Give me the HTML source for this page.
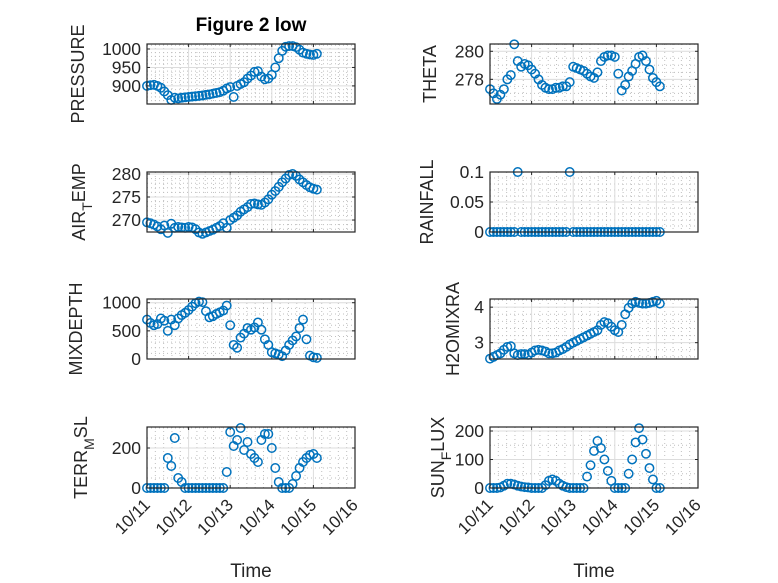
<!DOCTYPE html>
<html><head><meta charset="utf-8"><style>
html,body{margin:0;padding:0;background:#fff;}
svg{display:block;font-family:"Liberation Sans","DejaVu Sans",sans-serif;}
</style></head><body>
<svg id="fig" width="778" height="583" viewBox="0 0 778 583"></svg>
<script>
// ---- data (2-hour samples from 10/11 00:00, in days) ----
const sampleStepHours = 2;
const xTickLabels = ["10/11","10/12","10/13","10/14","10/15","10/16"];
const pressure = [900,902,903,900,895,885, 875,862,868,866,868,869, 870,871,872,873,874,876, 877,879,881,883,887,893, 897,870,900,905,910,920, 928,938,940,925,918,920, 930,950,975,995,1006,1008, 1008,1005,998,990,987,985, 984,987];
const theta = [277.3,277.0,276.6,276.9,277.3,278.0, 278.3,280.5,279.3,278.9,279.1,279.0, 278.7,278.4,278.0,277.6,277.4,277.3, 277.3,277.4,277.4,277.5,277.5,277.8, 278.9,278.8,278.7,278.6,278.4,278.2, 278.1,278.5,279.3,279.6,279.7,279.7, 279.6,278.4,277.2,277.6,278.2,278.6, 279.1,279.6,279.7,279.3,278.7,278.1, 277.8,277.5];
const airTemp = [269.5,269.3,269.0,268.6,268.0,268.8, 267.2,269.2,268.3,268.5,268.4,268.3, 268.5,268.4,268.0,267.3,267.0,267.3, 267.6,267.9,268.3,268.7,269.3,268.3, 270.0,270.5,271.0,271.8,272.3,272.8, 273.5,273.6,273.4,273.3,273.8,274.5, 275.5,276.3,277.2,278.2,279.0,279.8, 280.0,279.6,278.8,278.2,277.6,277.1, 276.8,276.6];
const rainfall = [0,0,0,0,0,0, 0,0,0.1,0,0,0, 0,0,0,0,0,0, 0,0,0,0,0,0.1, 0,0,0,0,0,0, 0,0,0,0,0,0, 0,0,0,0,0,0, 0,0,0,0,0,0, 0,0];
const mixDepth = [700,640,600,620,720,680, 500,700,600,720,780,820, 870,930,990,1020,1010,850, 740,760,800,830,860,950, 600,250,200,380,450,550, 520,560,650,520,350,250, 120,100,80,50,150,250, 330,400,550,700,350,60, 30,20];
const h2oMix = [2.55,2.6,2.65,2.7,2.8,2.88, 2.9,2.7,2.65,2.68,2.68,2.66, 2.72,2.78,2.8,2.78,2.75,2.7, 2.7,2.72,2.78,2.82,2.88,2.95, 3.0,3.05,3.1,3.15,3.2,3.25, 3.3,3.35,3.5,3.58,3.55,3.45, 3.35,3.3,3.5,3.8,3.98,4.1, 4.15,4.12,4.1,4.1,4.12,4.15, 4.18,4.1];
const terrMsl = [0,0,0,0,0,0, 150,110,250,50,30,0, 0,0,0,0,0,0, 0,0,0,0,0,80, 280,210,240,300,190,230, 170,150,130,240,270,270, 200,100,30,0,0,0, 20,60,100,130,150,165, 170,150];
const sunFlux = [0,0,0,2,8,15, 15,12,8,5,3,2, 0,0,0,0,10,25, 30,25,15,8,3,0, 0,0,0,0,40,80, 130,165,140,100,60,25, 0,0,0,0,50,100, 160,210,170,120,70,30, 0,0];
const pressureTicks = [900,950,1000];
const thetaTicks = [278,280];
const airTicks = [270,275,280];
const rainTicks = [0,0.05,0.1];
const rainTickLabels = ["0","0.05","0.1"];
const mixTicks = [0,500,1000];
const h2oTicks = [3,4];
const terrTicks = [0,200];
const sunTicks = [0,100,200];

const NS="http://www.w3.org/2000/svg";
const svg=document.getElementById('fig');
function mk(tag,attrs,parent){const e=document.createElementNS(NS,tag);for(const k in attrs)e.setAttribute(k,attrs[k]);(parent||svg).appendChild(e);return e;}

const cols=[{x0:147,x1:355},{x0:490,x1:698}];
const rows=[{y0:44,y1:104},{y0:172,y1:232},{y0:299,y1:359},{y0:427,y1:488}];
const panels=[
 {name:'pressure',c:0,r:0,data:pressure,ylim:[851,1013.5],ticks:pressureTicks,minor:10,label:['PRESSURE'],lx:78},
 {name:'theta',c:1,r:0,data:theta,ylim:[276.24,280.52],ticks:thetaTicks,minor:0.5,label:['THETA'],lx:430},
 {name:'air-temp',c:0,r:1,data:airTemp,ylim:[267.4,280.43],ticks:airTicks,minor:1,label:['AIR','T','EMP'],lx:79},
 {name:'rainfall',c:1,r:1,data:rainfall,ylim:[0,0.1],ticks:rainTicks,tl:rainTickLabels,minor:0.01,label:['RAINFALL'],lx:427},
 {name:'mixdepth',c:0,r:2,data:mixDepth,ylim:[0,1066],ticks:mixTicks,minor:100,label:['MIXDEPTH'],lx:76},
 {name:'h2omixra',c:1,r:2,data:h2oMix,ylim:[2.54,4.23],ticks:h2oTicks,minor:0.2,label:['H2OMIXRA'],lx:453},
 {name:'terr-msl',c:0,r:3,data:terrMsl,ylim:[0,305],ticks:terrTicks,minor:50,label:['TERR','M','SL'],lx:81},
 {name:'sun-flux',c:1,r:3,data:sunFlux,ylim:[0,214],ticks:sunTicks,minor:50,label:['SUN','F','LUX'],lx:438},
];
const xDays=[0,5];
panels.forEach(p=>{
  const C=cols[p.c],R=rows[p.r];
  const g=mk('g',{});
  
  
  const xs=d=>C.x0+(d-xDays[0])/(xDays[1]-xDays[0])*(C.x1-C.x0);
  const ys=v=>R.y1-(v-p.ylim[0])/(p.ylim[1]-p.ylim[0])*(R.y1-R.y0);
  mk('rect',{x:C.x0,y:R.y0,width:C.x1-C.x0,height:R.y1-R.y0,fill:'#fff'},g);
  for(let d=0;d<=5.001;d+=0.2){if(Math.abs(d-Math.round(d))<1e-6)continue;const x=xs(d);
    mk('line',{x1:x,x2:x,y1:R.y0,y2:R.y1,stroke:'#bfbfbf','stroke-width':1,'stroke-dasharray':'1,3'},g);}
  const m0=Math.ceil(p.ylim[0]/p.minor);
  for(let k=m0;k*p.minor<=p.ylim[1]+1e-9;k++){const v=k*p.minor;if(p.ticks.some(t=>Math.abs(t-v)<1e-9))continue;const y=ys(v);
    mk('line',{x1:C.x0,x2:C.x1,y1:y,y2:y,stroke:'#bfbfbf','stroke-width':1,'stroke-dasharray':'1,3'},g);}
  for(let d=0;d<=5;d++){const x=xs(d);
    mk('line',{x1:x,x2:x,y1:R.y0,y2:R.y1,stroke:'#dcdcdc','stroke-width':1},g);
    mk('line',{x1:x,x2:x,y1:R.y1,y2:R.y1-3,stroke:'#262626','stroke-width':1},g);
    mk('line',{x1:x,x2:x,y1:R.y0,y2:R.y0+3,stroke:'#262626','stroke-width':1},g);}
  p.ticks.forEach((t,i)=>{const y=ys(t);
    mk('line',{x1:C.x0,x2:C.x1,y1:y,y2:y,stroke:'#dcdcdc','stroke-width':1},g);
    mk('line',{x1:C.x0,x2:C.x0+3,y1:y,y2:y,stroke:'#262626'},g);
    mk('line',{x1:C.x1,x2:C.x1-3,y1:y,y2:y,stroke:'#262626'},g);
    const tx=mk('text',{x:C.x0-6,y:y+6,'text-anchor':'end','font-size':17.5,fill:'#262626'},g);
    tx.textContent=p.tl?p.tl[i]:String(t);
    
    
  });
  p.data.forEach((v,i)=>{
    const c=mk('circle',{cx:xs(i*sampleStepHours/24),cy:ys(v),r:4.2,fill:'none',stroke:'#0072BD','stroke-width':1.5},g);
    
    
  });
  mk('rect',{x:C.x0,y:R.y0,width:C.x1-C.x0,height:R.y1-R.y0,fill:'none',stroke:'#262626','stroke-width':1.2},g);
  const cy=(R.y0+R.y1)/2;
  const lb=mk('text',{x:p.lx,y:cy,'text-anchor':'middle','font-size':18,fill:'#262626',transform:`rotate(-90 ${p.lx} ${cy})`,'dominant-baseline':'central'},g);
  
  
  if(p.label.length===1){lb.textContent=p.label[0];}
  else{const a=mk('tspan',{},lb);a.textContent=p.label[0];
    const b=mk('tspan',{'baseline-shift':'sub','font-size':14},lb);b.textContent=p.label[1];
    const c=mk('tspan',{'baseline-shift':'0'},lb);c.textContent=p.label[2];}
  if(p.r===3){
    xTickLabels.forEach((s,i)=>{const x=xs(i),y=R.y1+10;
      const t=mk('text',{x:x+4,y:y+8,'text-anchor':'end','font-size':17,fill:'#262626',transform:`rotate(-45 ${x+4} ${y+8})`},g);
      t.textContent=s;
      
      });
    const xt=mk('text',{x:(C.x0+C.x1)/2,y:577,'text-anchor':'middle','font-size':19,fill:'#262626'},g);
    xt.textContent='Time';
    
    
  }
});
const title=mk('text',{x:251,y:31,'text-anchor':'middle','font-size':19,'font-weight':'bold',fill:'#000'});
title.textContent='Figure 2 low';


</script>
</body></html>
